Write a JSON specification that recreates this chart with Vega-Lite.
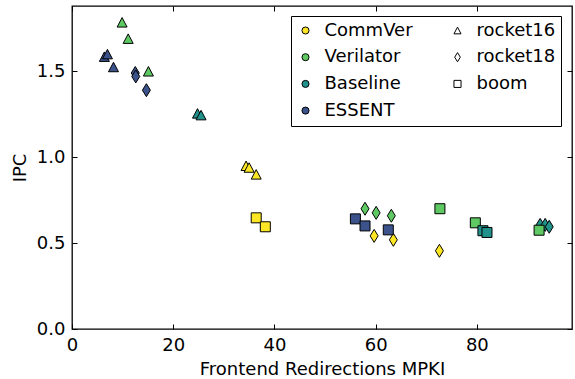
{
  "$schema": "https://vega.github.io/schema/vega-lite/v6.json",
  "width": 500,
  "height": 323,
  "autosize": "none",
  "padding": {"left": 72, "top": 6, "right": 3, "bottom": 50},
  "background": "white",
  "config": {
    "font": "DejaVu Sans",
    "view": {"stroke": "black", "strokeWidth": 1.3},
    "axis": {
      "grid": false,
      "domain": false,
      "labelFlush": false,
      "labelOverlap": false,
      "tickColor": "black",
      "tickWidth": 1,
      "tickSize": -5,
      "labelColor": "black",
      "labelFontSize": 18,
      "labelFont": "DejaVu Sans",
      "titleFont": "DejaVu Sans",
      "titleFontSize": 18,
      "titleFontWeight": "normal",
      "titleColor": "black"
    },
    "legend": {
      "symbolStrokeColor": "black",
      "symbolStrokeWidth": 1
    }
  },
  "data": {
    "values": [
      {"system": "Verilator", "design": "rocket16", "mpki": 9.9, "ipc": 1.785},
      {"system": "Verilator", "design": "rocket16", "mpki": 11.1, "ipc": 1.69},
      {"system": "Verilator", "design": "rocket16", "mpki": 15.1, "ipc": 1.50},
      {"system": "ESSENT", "design": "rocket16", "mpki": 6.4, "ipc": 1.585},
      {"system": "ESSENT", "design": "rocket16", "mpki": 7.0, "ipc": 1.60},
      {"system": "ESSENT", "design": "rocket16", "mpki": 8.2, "ipc": 1.525},
      {"system": "Baseline", "design": "rocket16", "mpki": 24.8, "ipc": 1.255},
      {"system": "Baseline", "design": "rocket16", "mpki": 25.5, "ipc": 1.245},
      {"system": "CommVer", "design": "rocket16", "mpki": 34.4, "ipc": 0.95},
      {"system": "CommVer", "design": "rocket16", "mpki": 35.0, "ipc": 0.94},
      {"system": "CommVer", "design": "rocket16", "mpki": 36.4, "ipc": 0.90},
      {"system": "ESSENT", "design": "rocket18", "mpki": 12.5, "ipc": 1.49},
      {"system": "ESSENT", "design": "rocket18", "mpki": 12.6, "ipc": 1.47},
      {"system": "ESSENT", "design": "rocket18", "mpki": 14.7, "ipc": 1.39},
      {"system": "Verilator", "design": "rocket18", "mpki": 57.9, "ipc": 0.70},
      {"system": "Verilator", "design": "rocket18", "mpki": 60.1, "ipc": 0.676},
      {"system": "Verilator", "design": "rocket18", "mpki": 63.1, "ipc": 0.659},
      {"system": "CommVer", "design": "rocket18", "mpki": 59.7, "ipc": 0.542},
      {"system": "CommVer", "design": "rocket18", "mpki": 63.5, "ipc": 0.519},
      {"system": "CommVer", "design": "rocket18", "mpki": 72.6, "ipc": 0.455},
      {"system": "Baseline", "design": "rocket18", "mpki": 92.5, "ipc": 0.606},
      {"system": "Baseline", "design": "rocket18", "mpki": 93.5, "ipc": 0.606},
      {"system": "Baseline", "design": "rocket18", "mpki": 94.3, "ipc": 0.595},
      {"system": "CommVer", "design": "boom", "mpki": 36.4, "ipc": 0.647},
      {"system": "CommVer", "design": "boom", "mpki": 38.2, "ipc": 0.595},
      {"system": "ESSENT", "design": "boom", "mpki": 56.0, "ipc": 0.641},
      {"system": "ESSENT", "design": "boom", "mpki": 57.9, "ipc": 0.60},
      {"system": "ESSENT", "design": "boom", "mpki": 62.5, "ipc": 0.577},
      {"system": "Verilator", "design": "boom", "mpki": 72.7, "ipc": 0.70},
      {"system": "Verilator", "design": "boom", "mpki": 79.7, "ipc": 0.618},
      {"system": "Baseline", "design": "boom", "mpki": 81.2, "ipc": 0.572},
      {"system": "Baseline", "design": "boom", "mpki": 82.0, "ipc": 0.562},
      {"system": "Verilator", "design": "boom", "mpki": 92.3, "ipc": 0.575}
    ]
  },
  "layer": [
    {
      "mark": {"type": "point", "filled": true, "stroke": "black", "strokeWidth": 1, "size": 100, "opacity": 1},
      "encoding": {
        "x": {
          "field": "mpki", "type": "quantitative",
          "scale": {"domain": [0, 98.8], "nice": false, "zero": false},
          "axis": {"values": [0, 20, 40, 60, 80], "format": "d", "title": "Frontend Redirections MPKI", "labelPadding": 12, "titlePadding": 6}
        },
        "y": {
          "field": "ipc", "type": "quantitative",
          "scale": {"domain": [0, 1.88], "nice": false, "zero": false},
          "axis": {"values": [0, 0.5, 1, 1.5], "format": ".1f", "title": "IPC", "labelPadding": 12, "titlePadding": 7}
        },
        "color": {
          "field": "system", "type": "nominal",
          "scale": {
            "domain": ["CommVer", "Verilator", "Baseline", "ESSENT", "rocket16", "rocket18", "boom"],
            "range": ["#fde725", "#5ec962", "#21918c", "#3b528b", "white", "white", "white"]
          },
          "legend": {
            "orient": "none", "legendX": 219, "legendY": 10, "columns": 2, "title": null,
            "strokeColor": "black", "cornerRadius": 0, "padding": 5.5,
            "fillColor": "white",
            "labelFontSize": 18, "labelColor": "black", "labelFont": "DejaVu Sans",
            "symbolSize": 50, "rowPadding": 8.7, "columnPadding": 35, "labelOffset": 10
          }
        },
        "shape": {
          "field": "design", "type": "nominal",
          "scale": {
            "domain": ["CommVer", "Verilator", "Baseline", "ESSENT", "rocket16", "rocket18", "boom"],
            "range": ["circle", "circle", "circle", "circle", "M0,-0.95L1,0.95L-1,0.95Z", "M0,-1.3L0.8,0L0,1.3L-0.8,0Z", "square"]
          },
          "legend": {
            "orient": "none", "legendX": 219, "legendY": 10, "columns": 2, "title": null,
            "strokeColor": "black", "cornerRadius": 0, "padding": 5.5,
            "fillColor": "white",
            "labelFontSize": 18, "labelColor": "black", "labelFont": "DejaVu Sans",
            "symbolSize": 50, "rowPadding": 8.7, "columnPadding": 35, "labelOffset": 10
          }
        }
      }
    },
    {
      "mark": {"type": "point", "opacity": 0},
      "encoding": {
        "x": {"field": "mpki", "type": "quantitative", "axis": {"orient": "top", "values": [0, 20, 40, 60, 80], "labels": false, "title": null}},
        "y": {"field": "ipc", "type": "quantitative", "axis": {"orient": "right", "values": [0, 0.5, 1, 1.5], "labels": false, "title": null}}
      }
    }
  ],
  "resolve": {"axis": {"x": "independent", "y": "independent"}}
}
